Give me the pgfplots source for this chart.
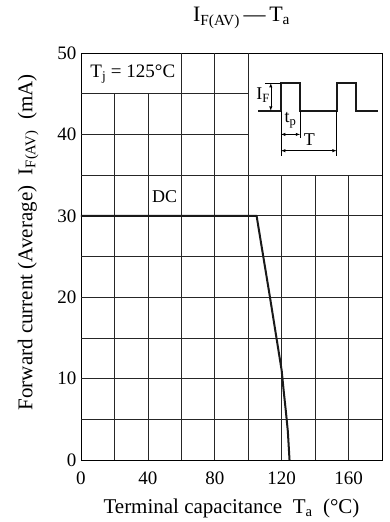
\documentclass[border=0pt]{standalone}
\usepackage{fontspec}
\setmainfont{Liberation Serif}
\usepackage{pgfplots}
\pgfplotsset{compat=1.18}
\begin{document}
\begin{tikzpicture}
\useasboundingbox (-81pt,-62pt) rectangle (308pt,460pt);
\begin{axis}[
  at={(0pt,0pt)}, anchor=south west,
  scale only axis, width=301pt, height=407pt,
  xmin=0, xmax=180, ymin=0, ymax=50,
  xtick={0,40,...,160}, ytick={0,10,...,50},
  major tick length=0pt,
  tick label style={font=\fontsize{19}{21}\selectfont},
  xticklabel style={yshift=-8pt},
  yticklabel style={xshift=-1pt},
  /pgf/number format/assume math mode=true,
  axis line style={line width=0.8pt},
  label style={font=\fontsize{21}{23}\selectfont},
  xlabel={Terminal capacitance\ \ T\textsubscript{a}\ \ (°C)},
  ylabel={Forward current (Average)\ \ I\textsubscript{F(AV)}\ \ (mA)},
  ylabel style={at={(ticklabel cs:0.535)}, anchor=south, yshift=12pt},
  xlabel style={yshift=-8pt},
  clip=false,
]
% grid
\pgfplotsinvokeforeach{5,10,15,20,25,30,35}{\draw[black!85, line width=0.65pt] (axis cs:0,#1) -- (axis cs:180,#1);}
\pgfplotsinvokeforeach{40,45}{\draw[black!85, line width=0.65pt] (axis cs:0,#1) -- (axis cs:100,#1);}
\pgfplotsinvokeforeach{20,40}{\draw[black!85, line width=0.65pt] (axis cs:#1,0) -- (axis cs:#1,45);}
\pgfplotsinvokeforeach{60,80,100}{\draw[black!85, line width=0.65pt] (axis cs:#1,0) -- (axis cs:#1,50);}
\pgfplotsinvokeforeach{120,140,160}{\draw[black!85, line width=0.65pt] (axis cs:#1,0) -- (axis cs:#1,35);}
% curve
\addplot[black!90, line width=2pt, line join=round] coordinates {(0,30)(105,30)(113,20)(120,11)(121.2,8.5)(122.5,6)(123.7,3.5)(124.7,0)};
\node[font=\fontsize{18}{20}\selectfont] at (axis cs:50,32.3) {DC};
\node[font=\fontsize{19}{21}\selectfont] at (axis cs:31,47.4) {T\textsubscript{j} = 125°C};
% inset
\draw[black!90, line width=1.7pt] (axis cs:106,42.9) -- (axis cs:119.6,42.9) -- (axis cs:119.6,46.3) -- (axis cs:131,46.3) -- (axis cs:131,42.9) -- (axis cs:152.9,42.9) -- (axis cs:152.9,46.3) -- (axis cs:164.5,46.3) -- (axis cs:164.5,42.9) -- (axis cs:177.6,42.9);
\draw[line width=0.5pt] (axis cs:110,46.3) -- (axis cs:119.6,46.3);
\draw[line width=0.5pt, <->, >=latex] (axis cs:113.5,42.9) -- (axis cs:113.5,46.3);
\node[anchor=east, font=\fontsize{18}{20}\selectfont, inner sep=0.5pt] at (axis cs:113.3,44.8) {I\textsubscript{F}};
\draw[line width=0.5pt] (axis cs:119.6,42.9) -- (axis cs:119.6,37.3);
\draw[line width=0.5pt] (axis cs:131,42.9) -- (axis cs:131,39.5);
\draw[line width=0.5pt] (axis cs:152.9,42.9) -- (axis cs:152.9,37.3);
\draw[line width=0.5pt, <->, >=latex] (axis cs:119.6,40) -- (axis cs:131,40);
\node[font=\fontsize{18}{20}\selectfont] at (axis cs:125.3,41.7) {t\textsubscript{p}};
\draw[line width=0.5pt, <->, >=latex] (axis cs:119.6,38) -- (axis cs:152.9,38);
\node[font=\fontsize{18}{20}\selectfont] at (axis cs:136.5,39.3) {T};
\node[font=\fontsize{22}{24}\selectfont] at (axis cs:96,50) [yshift=35pt] {I\textsubscript{F(AV)}\,—\,T\textsubscript{a}};
\end{axis}
\end{tikzpicture}
\end{document}
